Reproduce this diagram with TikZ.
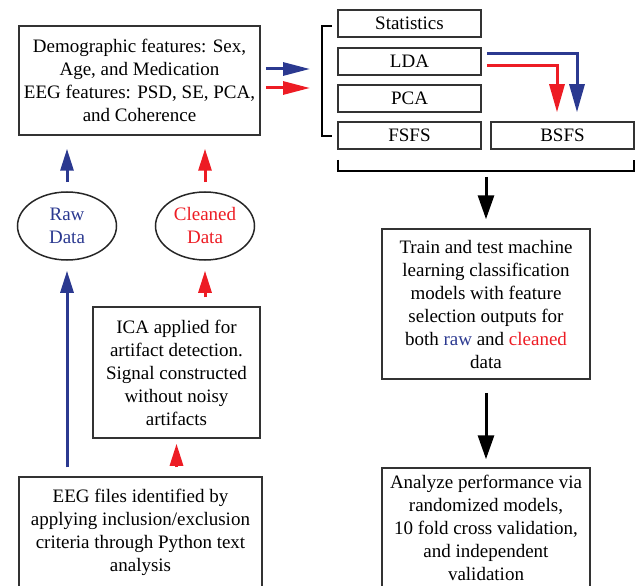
\documentclass[tikz,border=0pt]{standalone}
\usepackage{fontspec}
\setmainfont{Liberation Serif}
\usetikzlibrary{arrows.meta,positioning,shapes.geometric}
\definecolor{rawblue}{RGB}{43,57,144}
\definecolor{cleanred}{RGB}{237,28,36}

\begin{document}
\begin{tikzpicture}[
    x=1pt, y=-1pt,
    font=\fontsize{19}{23}\selectfont,
    box/.style={draw=black!80, line width=1.5pt, align=center, inner sep=0pt},
    smallbox/.style={box, minimum width=143pt, minimum height=27pt},
    oval/.style={draw=black!85, line width=1.5pt, ellipse, align=center, inner sep=0pt, minimum width=99pt, minimum height=68pt},
    rawline/.style={draw=rawblue, line width=3pt, line join=miter, -{Triangle[length=22pt, width=13pt]}},
    cleanline/.style={draw=cleanred, line width=3pt, line join=miter, -{Triangle[length=22pt, width=13pt]}},
    flowline/.style={line width=3pt, -{Triangle[length=24pt, width=16pt]}},
    bracket/.style={line width=2.4pt}
  ]
    \useasboundingbox (0,0) rectangle (641,586);

    \node[box, minimum width=241pt, minimum height=109pt] (feat) at (139.5,80.5)
      {Demographic features: Sex,\\ Age, and Medication\\ EEG features: PSD, SE, PCA,\\ and Coherence};
    \node[smallbox] (stats) at (409.5,23.5) {Statistics};
    \node[smallbox] (lda) at (409.5,61.5) {LDA};
    \node[smallbox] (pca) at (409.5,98.5) {PCA};
    \node[smallbox] (fsfs) at (409.5,135.5) {FSFS};
    \node[smallbox] (bsfs) at (562.5,135.5) {BSFS};
    \node[oval, text=rawblue] (raw) at (67,226) {Raw\\ Data};
    \node[oval, text=cleanred] (clean) at (205,226) {Cleaned\\ Data};
    \node[box, minimum width=167pt, minimum height=131pt] (ica) at (176.5,372.5)
      {ICA applied for\\ artifact detection.\\ Signal constructed\\ without noisy\\ artifacts};
    \node[box, minimum width=243pt, minimum height=111pt] (eeg) at (140.5,532.5)
      {EEG files identified by\\ applying inclusion/exclusion\\ criteria through Python text\\ analysis};
    \node[box, minimum width=208pt, minimum height=150pt] (train) at (486,304)
      {Train and test machine\\ learning classification\\ models with feature\\ selection outputs for\\ both {\color{rawblue}raw} and {\color{cleanred}cleaned}\\ data};
    \node[box, minimum width=208pt, minimum height=120pt] (perf) at (486,528)
      {Analyze performance via\\ randomized models,\\ 10 fold cross validation,\\ and independent\\ validation};

    % brackets round the feature selection methods
    \coordinate (lbtop) at (322,26);
    \coordinate (lbbot) at (322,136);
    \coordinate (bbmid) at (486,171);
    \draw[bracket] (332,26) -- (lbtop) -- (lbbot) -- (332,136);
    \draw[bracket] (338,160) -- (338,171) -- (634,171) -- (634,160);

    \coordinate (inraw) at (310,69);
    \coordinate (inclean) at (310,88);

    \draw[rawline, shorten <=5pt, -{Triangle[length=27pt, width=13pt]}] (feat.east |- inraw) -- (inraw);
    \draw[cleanline, shorten <=5pt, -{Triangle[length=27pt, width=13pt]}] (feat.east |- inclean) -- (inclean);
    \draw[rawline, shorten <=5pt, shorten >=9pt, -{Triangle[length=28pt, width=15pt]}] ([yshift=7.5pt]lda.east) -| ([xshift=14.5pt]bsfs.north);
    \draw[cleanline, shorten <=5pt, shorten >=9pt, -{Triangle[length=28pt, width=15pt]}] ([yshift=-4.5pt]lda.east) -| ([xshift=-5.5pt]bsfs.north);
    \draw[flowline, shorten <=6pt, shorten >=9pt] (bbmid) -- (train.north);
    \draw[flowline, shorten <=13pt, shorten >=8pt] (train.south) -- (perf.north);
    \draw[rawline, shorten <=9pt, shorten >=13pt] (raw.north) -- (raw.north |- feat.south);
    \draw[cleanline, shorten <=9pt, shorten >=13pt] (clean.north) -- (clean.north |- feat.south);
    \draw[rawline, shorten <=9pt, shorten >=10pt] (raw.south |- eeg.north) -- (raw.south);
    \draw[cleanline, shorten <=9pt, shorten >=10pt] (clean.south |- ica.north) -- (clean.south);
    \draw[cleanline, shorten <=9pt, shorten >=5pt] (ica.south |- eeg.north) -- (ica.south);
  \end{tikzpicture}
\end{document}
